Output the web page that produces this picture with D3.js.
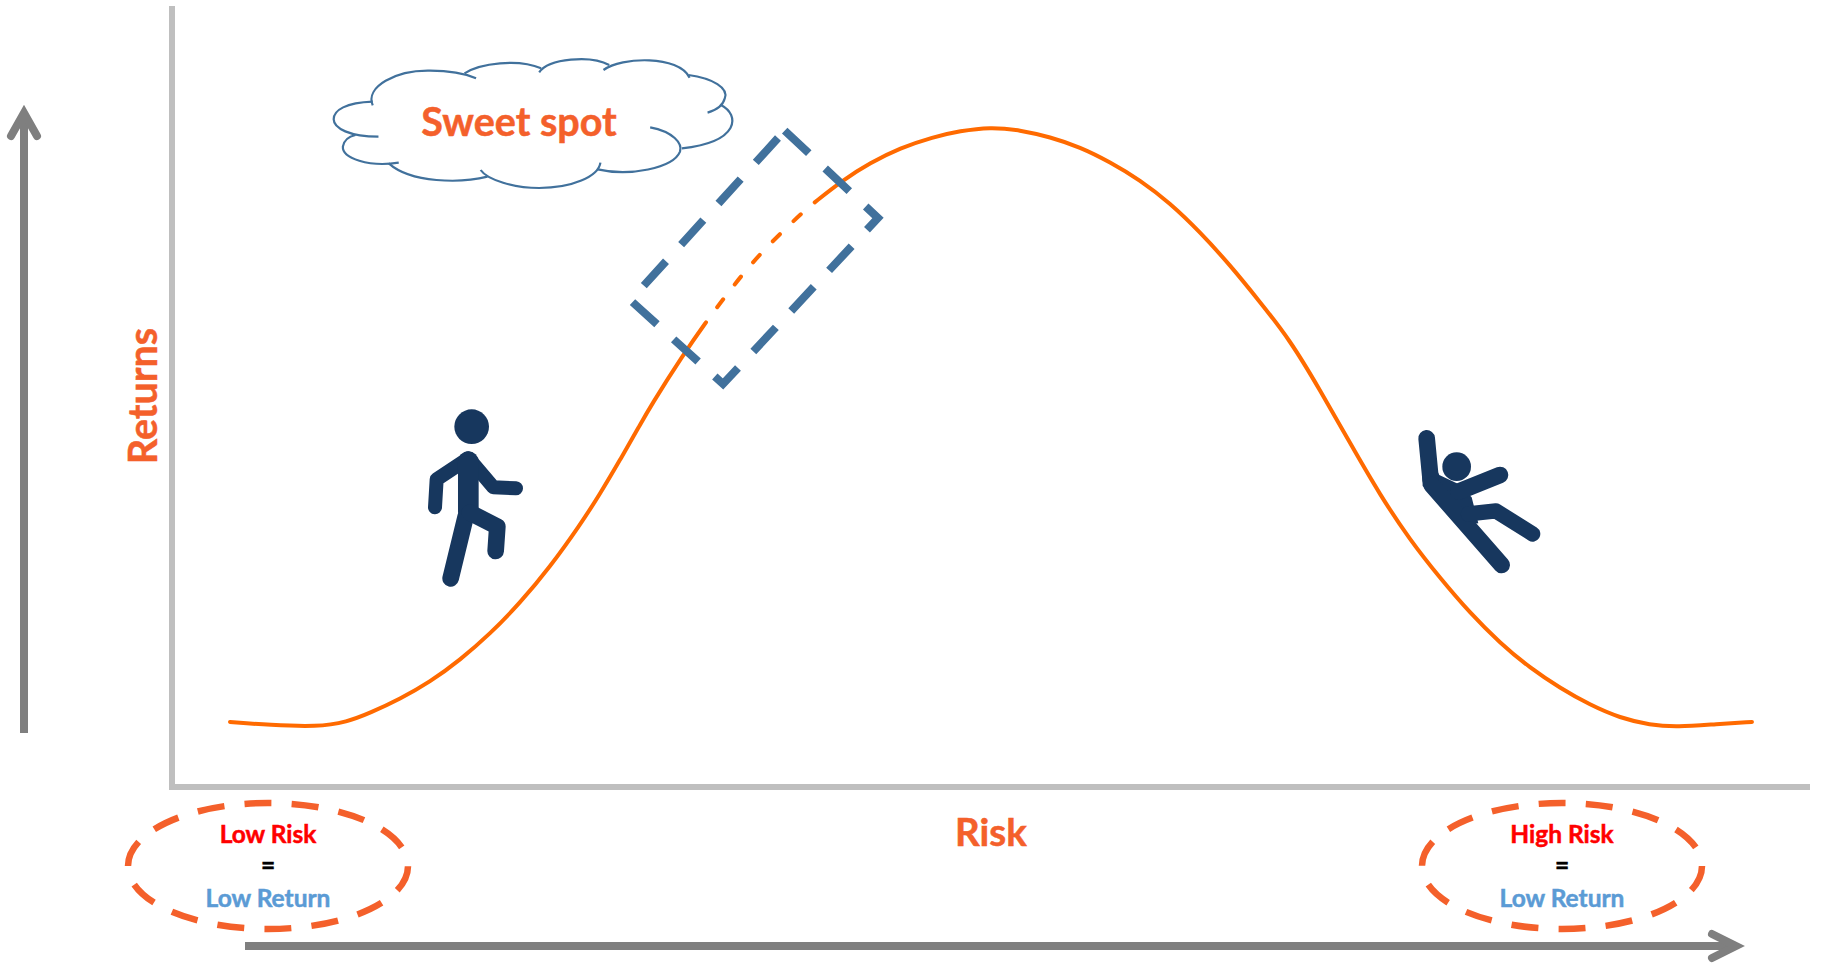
<!DOCTYPE html>
<html>
<head>
<meta charset="utf-8">
<script src="https://cdn.jsdelivr.net/npm/d3@7"></script>
<style>
  html, body { margin: 0; padding: 0; background: #fff; }
  svg { display: block; }
  text { font-family: Lato, "Open Sans", sans-serif; font-weight: 700; stroke-width: 0.5; paint-order: stroke; }
</style>
</head>
<body>
<svg id="chart" width="1825" height="970"></svg>
<script>
// Risk / return hump, in plot units measured from the axis corner
const risk = [58, 98, 145, 175, 198, 228, 258, 288, 318, 348, 378, 408, 428, 448, 468, 478, 511, 534,
  552, 570, 589, 610, 631, 643, 671, 698, 728, 761, 788, 818, 848, 878, 908, 938, 968, 998, 1028,
  1058, 1088, 1118, 1148, 1178, 1208, 1238, 1268, 1298, 1328, 1358, 1388, 1418, 1448, 1478, 1505, 1545, 1580];
const returns = [65, 62, 60, 65, 74, 88, 105, 127, 153, 184, 220, 262, 293, 327, 362, 380, 432, 465,
  489, 512, 534, 555, 575, 585, 607, 624, 639, 650, 656, 660, 657, 650, 640, 625, 607, 584, 555,
  522, 485, 447, 397, 344, 292, 247, 209, 174, 144, 119, 99, 82, 69, 62, 60, 63, 65];

// Stretch of the curve shown dashed: the "sweet spot"
const sweetSpotRange = [534, 643];
const sweetSpotDashes = 5;
const sweetSpotCorners = [[612.7, 656.4], [706, 569], [551, 403], [458.5, 486.7]];

const curveColor = "#ff6a00";
const labelColor = "#f4602b";
const shapeBlue = "#41719c";
const axisGrey = "#bfbfbf";
const arrowGrey = "#7f7f7f";
const figureNavy = "#17375e";

const ovalLabels = [
  { centerRisk: 96, top: "Low Risk", bottom: "Low Return", startAt: "left" },
  { centerRisk: 1390, top: "High Risk", bottom: "Low Return", startAt: "right" }
];

const svg = d3.select("#chart");
const x = d3.scaleLinear().domain([0, 1638]).range([172, 1810]);
const y = d3.scaleLinear().domain([0, 781]).range([787, 6]);

// Plot frame
svg.append("path")
  .attr("d", `M${x(0)},${y(781)}V${y(0)}H${x(1638)}`)
  .attr("fill", "none").attr("stroke", axisGrey).attr("stroke-width", 6)
  .attr("stroke-linejoin", "miter");

// Hump curve as one path; its stroke pattern turns dashed over the sweet spot
const points = risk.map((r, i) => [r, returns[i]]);
const line = d3.line().x(d => x(d[0])).y(d => y(d[1])).curve(d3.curveBasis);
const hump = svg.append("path")
  .attr("d", line(points))
  .attr("fill", "none")
  .attr("stroke", curveColor)
  .attr("stroke-width", 4)
  .attr("stroke-linecap", "round");

function lengthAtRisk(node, value) {
  let lo = 0, hi = node.getTotalLength();
  const target = x(value);
  while (hi - lo > 0.2) {
    const mid = (lo + hi) / 2;
    if (node.getPointAtLength(mid).x < target) lo = mid; else hi = mid;
  }
  return lo;
}
const humpNode = hump.node();
const dashStart = lengthAtRisk(humpNode, sweetSpotRange[0]);
const dashEnd = lengthAtRisk(humpNode, sweetSpotRange[1]);
const dashOn = 10;
const dashOff = (dashEnd - dashStart - sweetSpotDashes * dashOn) / (sweetSpotDashes + 1);
const pattern = [dashStart];
d3.range(sweetSpotDashes).forEach(() => pattern.push(dashOff, dashOn));
pattern.push(dashOff, humpNode.getTotalLength() - dashEnd + 1);
hump.attr("stroke-dasharray", pattern.join(" "));

// Dashed box round the sweet spot
svg.append("path")
  .attr("d", d3.line().x(d => x(d[0])).y(d => y(d[1])).curve(d3.curveLinearClosed)(sweetSpotCorners))
  .attr("fill", "none").attr("stroke", shapeBlue).attr("stroke-width", 8)
  .attr("stroke-dasharray", "33 22.5").attr("stroke-linejoin", "miter");

// Cloud callout, made of separate open lobes
const cloudLobes = [
  "M190,215 C120,218 88,240 88,268 C88,295 130,320 205,320",
  "M190,226 C170,170 250,120 340,122 C385,122 430,130 460,145",
  "M430,130 C470,100 570,85 630,115",
  "M625,127 C650,85 760,75 808,105",
  "M793,120 C840,80 990,75 1018,143",
  "M1015,135 C1080,145 1120,175 1110,205 C1105,228 1090,240 1065,248",
  "M1100,225 C1150,255 1150,335 998,355",
  "M915,292 C975,305 1000,340 993,365 C975,415 860,440 778,418",
  "M785,398 C780,440 710,474 625,474 C560,474 490,450 472,420",
  "M490,440 C420,460 290,460 232,400",
  "M258,398 C180,412 110,385 112,350 C115,330 125,320 145,315"
];
svg.append("g").attr("transform", `translate(300,30) scale(${1 / 2.613},${1 / 3})`)
  .selectAll("path").data(cloudLobes).join("path")
  .attr("d", d => d).attr("fill", "none")
  .attr("stroke", shapeBlue).attr("stroke-width", 2.2)
  .attr("vector-effect", "non-scaling-stroke");

svg.append("text").text("Sweet spot")
  .attr("x", 519).attr("y", 136).attr("text-anchor", "middle")
  .attr("font-size", 39.5).attr("fill", labelColor).attr("stroke", labelColor);

// Stick figures, drawn as round-capped limbs
function drawLimbs(g, limbs) {
  g.selectAll("path.limb").data(limbs).join("path").attr("class", "limb")
    .attr("d", d => d3.line()(d.p)).attr("fill", "none")
    .attr("stroke", figureNavy).attr("stroke-width", d => d.w)
    .attr("stroke-linecap", "round").attr("stroke-linejoin", "round");
}
const walker = svg.append("g").attr("transform", "translate(400,390) scale(0.3333)");
walker.append("circle").attr("cx", 215).attr("cy", 110).attr("r", 52).attr("fill", figureNavy);
drawLimbs(walker, [
  { w: 42, p: [[205, 205], [110, 268], [105, 352]] },
  { w: 42, p: [[215, 215], [280, 292], [348, 295]] },
  { w: 62, p: [[205, 215], [205, 365]] },
  { w: 50, p: [[197, 380], [152, 565]] },
  { w: 50, p: [[210, 368], [292, 410], [287, 483]] }
]);

const faller = svg.append("g").attr("transform", "translate(1390,410) scale(0.3333)");
faller.append("circle").attr("cx", 200).attr("cy", 170).attr("r", 43).attr("fill", figureNavy);
faller.append("path").attr("d", d3.line()([[98, 228], [92, 85], [148, 195], [205, 222], [245, 262], [265, 340], [215, 345]]))
  .attr("fill", figureNavy);
drawLimbs(faller, [
  { w: 50, p: [[110, 85], [122, 210]] },
  { w: 50, p: [[205, 245], [330, 195]] },
  { w: 50, p: [[125, 225], [335, 465]] },
  { w: 46, p: [[235, 312], [318, 303], [428, 372]] }
]);

// Axis titles
svg.append("text").text("Risk").attr("x", 991).attr("y", 846)
  .attr("text-anchor", "middle").attr("font-size", 38.5).attr("fill", labelColor).attr("stroke", labelColor);
svg.append("text").text("Returns")
  .attr("transform", "translate(157,396) rotate(-90)")
  .attr("text-anchor", "middle").attr("font-size", 39.5).attr("fill", labelColor).attr("stroke", labelColor);

// Direction arrows
const arrows = [
  [[[24, 733], [24, 115]], [[11, 136], [24, 113], [37, 136]]],
  [[[245, 946], [1735, 946]], [[1712, 934], [1736, 946], [1712, 958]]]
];
arrows.forEach(([shaft, head]) => {
  svg.append("path").attr("d", d3.line()(shaft)).attr("fill", "none")
    .attr("stroke", arrowGrey).attr("stroke-width", 8);
  svg.append("path").attr("d", d3.line()(head)).attr("fill", "none")
    .attr("stroke", arrowGrey).attr("stroke-width", 8)
    .attr("stroke-linecap", "round").attr("stroke-linejoin", "miter");
});

// Dashed ovals with their risk = return notes
ovalLabels.forEach(o => {
  const cx = x(o.centerRisk), cy = 866, rx = 140, ry = 63;
  const sweep = o.startAt === "left"
    ? `M${cx - rx},${cy} A${rx},${ry} 0 1 1 ${cx + rx},${cy} A${rx},${ry} 0 1 1 ${cx - rx},${cy}`
    : `M${cx + rx},${cy} A${rx},${ry} 0 1 1 ${cx - rx},${cy} A${rx},${ry} 0 1 1 ${cx + rx},${cy}`;
  svg.append("path").attr("d", sweep).attr("fill", "none")
    .attr("stroke", labelColor).attr("stroke-width", 6.5)
    .attr("stroke-dasharray", "27 20.2");
  const lines = [
    { t: o.top, yy: 843, fill: "#ff0000" },
    { t: "=", yy: 874, fill: "#000000" },
    { t: o.bottom, yy: 907, fill: "#5b9bd5" }
  ];
  svg.selectAll(null).data(lines).join("text")
    .text(d => d.t).attr("x", cx).attr("y", d => d.yy)
    .attr("text-anchor", "middle").attr("font-size", 24.5)
    .attr("fill", d => d.fill).attr("stroke", d => d.fill);
});
</script>
</body>
</html>
